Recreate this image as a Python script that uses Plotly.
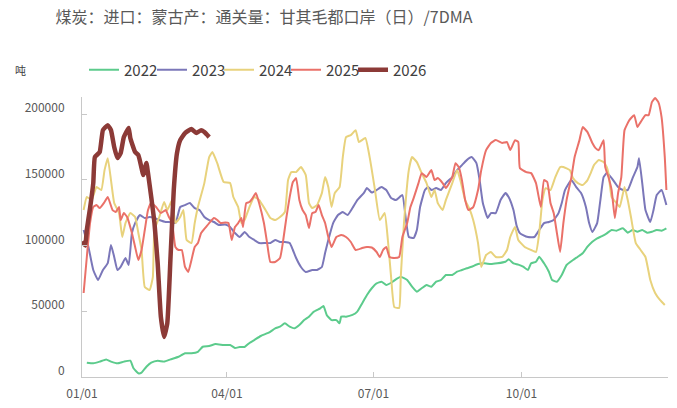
import plotly.graph_objects as go

# Day-of-year positions (0 = 01/01) and 7-day moving average values, tonnes
days_2022 = [3, 7, 11, 15, 18, 22, 26, 30, 32, 35, 37, 40, 43, 47, 51, 55, 60, 64, 68, 72, 75, 79, 83, 88,
             92, 95, 98, 101, 104, 107, 111, 116, 120, 123, 126, 129, 132, 135, 138, 141, 144, 148, 150, 152,
             155, 158, 160, 161, 164, 168, 171, 174, 177, 180, 183, 186, 189, 192, 195, 198, 202, 205, 208,
             211, 214, 217, 220, 223, 226, 230, 233, 236, 239, 242, 246, 250, 254, 258, 263, 265, 268, 271,
             274, 277, 279, 282, 284, 287, 290, 292, 295, 298, 301, 305, 308, 311, 314, 317, 320, 323, 326,
             329, 332, 336, 339, 342, 345, 348, 351, 354, 357, 360, 363]
vals_2022 = [10900, 10400, 11700, 13400, 11700, 10400, 11700, 12400, 6600, 2800, 3300, 7800, 10900, 12400,
             11700, 13400, 15400, 18000, 18000, 19200, 23000, 23600, 25100, 24300, 24300, 22100, 22800, 22800,
             25900, 28100, 31200, 33700, 37000, 38300, 40800, 38300, 37000, 39500, 43300, 45900, 49700, 52200,
             54000, 47200, 43300, 43300, 40800, 45900, 45900, 47200, 49700, 56000, 62400, 67500, 71200, 72500,
             70000, 71700, 74300, 76300, 73800, 68700, 64900, 67500, 70000, 68700, 72500, 73800, 77600, 77600,
             80100, 81400, 82700, 83900, 85900, 86500, 85900, 86500, 87700, 89500, 86500, 85500, 83900, 81400,
             86500, 87700, 91500, 86500, 80100, 73800, 72500, 77600, 85200, 89000, 91500, 94100, 99100, 102900,
             105500, 107200, 109300, 111800, 111300, 113100, 109800, 111800, 110500, 111800, 109800, 110500,
             111800, 111300, 113100]

days_2023 = [1, 4, 7, 10, 13, 16, 18, 20, 22, 24, 27, 29, 31, 33, 36, 39, 42, 45, 48, 52, 54, 58, 61, 64, 67,
             70, 73, 76, 79, 82, 85, 89, 92, 95, 98, 101, 104, 107, 110, 114, 117, 120, 123, 126, 129, 131, 133,
             136, 139, 143, 146, 149, 151, 153, 156, 159, 162, 165, 168, 171, 175, 177, 180, 183, 186, 189, 192,
             195, 199, 201, 203, 206, 208, 210, 213, 215, 217, 220, 223, 226, 230, 233, 236, 239, 242, 245, 247,
             249, 252, 254, 257, 260, 263, 265, 268, 270, 272, 274, 277, 281, 284, 287, 290, 293, 296, 298, 300,
             304, 307, 310, 313, 315, 317, 320, 322, 324, 326, 329, 333, 336, 339, 342, 345, 346, 348, 350, 353,
             355, 357, 360, 363]
vals_2023 = [111800, 98900, 81400, 73800, 81400, 86700, 100400, 91300, 81400, 83700, 90500, 85200, 109500,
             117100, 123200, 120900, 121700, 120900, 119400, 117900, 117900, 117100, 129300, 130800, 132300,
             128500, 127000, 121700, 119400, 117900, 115600, 116000, 114100, 109500, 106500, 110300, 106500,
             104200, 101900, 101900, 101900, 104200, 102700, 102700, 101900, 96600, 90500, 83700, 79900, 81400,
             81400, 83700, 94300, 104200, 117100, 123200, 125500, 123200, 128500, 134600, 139900, 143700,
             140300, 142200, 144500, 142200, 136100, 134600, 138400, 121700, 106500, 105700, 111800, 129300,
             142200, 144500, 142200, 143700, 142200, 147500, 152100, 157400, 161200, 165000, 167300, 162700,
             149800, 132300, 120900, 124700, 124700, 134600, 139900, 136900, 127000, 115000, 109500, 108000,
             106500, 106500, 111800, 117100, 117900, 119400, 124700, 132300, 142200, 149800, 144500, 139900,
             129300, 117100, 110300, 117100, 134600, 152100, 155100, 151300, 144500, 142200, 142200, 151300,
             159700, 166500, 147500, 127000, 117900, 127000, 138400, 142200, 130800]

days_2024 = [1, 3, 6, 9, 12, 14, 16, 18, 20, 23, 25, 27, 30, 33, 35, 37, 39, 42, 44, 45, 48, 51, 53, 56, 58,
             61, 63, 65, 68, 70, 72, 76, 79, 81, 84, 88, 92, 94, 97, 99, 101, 104, 107, 110, 114, 117, 120, 123,
             126, 128, 130, 133, 136, 139, 141, 143, 146, 149, 151, 153, 155, 157, 160, 162, 164, 167, 170, 172,
             176, 179, 182, 185, 188, 190, 192, 194, 197, 198, 200, 203, 205, 208, 211, 214, 217, 219, 221, 224,
             226, 230, 233, 235, 238, 241, 243, 246, 248, 251, 254, 257, 261, 264, 266, 269, 271, 275, 279, 282,
             284, 286, 288, 291, 294, 297, 299, 303, 305, 308, 311, 314, 316, 318, 321, 324, 326, 327, 329, 332,
             334, 337, 339, 341, 344, 347, 350, 353, 356, 359, 362]
vals_2024 = [127000, 136900, 134600, 144500, 142200, 157400, 166500, 149800, 132300, 124700, 106500, 117100,
             124700, 121700, 109500, 96600, 68400, 66200, 76000, 111800, 121700, 133100, 127000, 134600, 117100,
             121700, 127000, 104200, 101900, 117100, 129300, 147500, 167300, 171100, 162700, 148300, 147500,
             136900, 129300, 117100, 119400, 129300, 136900, 134600, 127000, 120900, 119400, 121700, 125500,
             149800, 155900, 155900, 159700, 153600, 132300, 128500, 130800, 139900, 152100, 144500, 129300,
             139900, 144500, 167300, 182500, 184000, 187800, 178700, 181800, 165000, 142200, 119400, 124700,
             104200, 76000, 53200, 52500, 76000, 117100, 157400, 167300, 163500, 155100, 147500, 136900, 142200,
             132300, 127000, 134600, 147500, 157400, 149800, 134600, 127000, 119400, 101900, 83700, 92800, 95100,
             91300, 91300, 96600, 106500, 114100, 104200, 98900, 96600, 95100, 109500, 134600, 143700, 142200,
             152100, 159700, 159700, 157400, 151300, 147500, 146000, 149800, 155100, 161200, 165000, 163500,
             159700, 155100, 136900, 132300, 129300, 144500, 134600, 121700, 101900, 96600, 91300, 73800, 63900,
             58600, 54800]

days_2025 = [1, 3, 5, 7, 9, 11, 14, 16, 19, 21, 23, 24, 26, 28, 31, 33, 35, 37, 39, 41, 43, 46, 49, 52, 54,
             56, 58, 60, 62, 64, 66, 68, 70, 72, 74, 77, 79, 82, 84, 86, 89, 91, 93, 95, 97, 99, 100, 102, 104,
             106, 108, 110, 113, 115, 117, 120, 123, 125, 127, 129, 131, 133, 135, 137, 139, 141, 143, 145, 147,
             149, 151, 153, 155, 158, 161, 164, 167, 170, 174, 177, 180, 183, 185, 187, 189, 191, 194, 197, 199,
             202, 204, 206, 209, 211, 214, 217, 219, 221, 224, 226, 230, 232, 234, 236, 238, 240, 243, 246, 248,
             251, 254, 257, 261, 264, 266, 269, 271, 272, 276, 279, 282, 285, 287, 289, 291, 293, 295, 297, 299,
             301, 304, 306, 309, 311, 314, 317, 319, 321, 324, 325, 327, 329, 331, 333, 335, 337, 340, 343, 345,
             347, 350, 352, 354, 356, 358, 360, 362, 363]
vals_2025 = [63900, 91300, 117100, 129300, 130800, 128500, 133100, 136900, 127000, 125500, 129300, 119400,
             124700, 121700, 109500, 98900, 89000, 96600, 111800, 127000, 132300, 129300, 124700, 127000, 121700,
             117100, 98900, 96600, 96600, 83700, 79900, 89000, 98900, 101900, 109500, 114100, 117100, 120900,
             119400, 117100, 117500, 117100, 104200, 114100, 117100, 120900, 114100, 132300, 133100, 136100,
             139900, 132300, 117100, 101900, 87500, 87500, 90500, 104200, 121700, 136900, 148300, 151300, 134600,
             127000, 123200, 113300, 124700, 125500, 130800, 123200, 117100, 106500, 98900, 106500, 108000,
             106500, 102700, 96600, 98100, 98900, 98500, 95100, 91300, 96600, 98900, 91300, 90500, 91300, 106500,
             117100, 129300, 136100, 147500, 155100, 152100, 157400, 149800, 151300, 147500, 143700, 152100,
             162700, 159700, 149800, 134600, 127000, 129300, 142200, 157400, 172600, 178000, 180200, 178000,
             178700, 172600, 180200, 178700, 158900, 155900, 155100, 147500, 129300, 149800, 148300, 132300,
             124700, 109500, 95100, 117100, 134600, 152100, 167300, 180200, 190100, 186300, 178000, 174100,
             172600, 180200, 159700, 152100, 142200, 120900, 139900, 152100, 187800, 195400, 199200, 190100,
             193900, 199200, 199200, 209100, 212200, 209100, 197700, 167300, 142200]

days_2026 = [0, 2, 3, 5, 7, 8, 11, 13, 16, 18, 20, 22, 24, 26, 29, 30, 33, 35, 37, 38, 40, 41, 43, 45, 47,
             49, 51, 53, 55, 57, 59, 61, 64, 68, 71, 74, 76, 79]
vals_2026 = [103000, 100000, 112000, 128500, 147500, 167300, 171100, 187800, 191600, 187800, 174900, 166500,
             170300, 182500, 189400, 181800, 171100, 168800, 158900, 153600, 162700, 155100, 136900, 117100,
             86700, 45600, 30400, 41100, 91300, 142200, 170300, 180200, 185600, 188600, 185600, 187800, 186300,
             182500]

years = ["2022", "2023", "2024", "2025", "2026"]
colors = ["#5ccb8c", "#7b77b9", "#e8d27c", "#ea7169", "#8c3a37"]
widths = [2, 2, 2, 2, 4.5]
series_days = [days_2022, days_2023, days_2024, days_2025, days_2026]
series_vals = [vals_2022, vals_2023, vals_2024, vals_2025, vals_2026]

x_tickvals = [0, 90, 181, 273]
x_ticktext = ["01/01", "04/01", "07/01", "10/01"]
y_tickvals = [0, 50000, 100000, 150000, 200000]
y_ticktext = ["0", "50000", "100000", "150000", "200000"]

FONT = "Noto Sans CJK SC, sans-serif"
AXIS_GRAY = "#c8c8c8"
TEXT_GRAY = "#595959"
LEGEND_FONT = dict(size=15, color="#404040", family=FONT)

PLOT_LEFT, PLOT_WIDTH = 82, 586
# pixel offset (from the page's left edge) at which each legend entry starts
legend_starts = [84, 152, 219, 286, 353]
legend_y = 1 + 27 / 280

fig = go.Figure()
legend_layouts = {}
for i, (name, d, v, c, w) in enumerate(zip(years, series_days, series_vals, colors, widths)):
    lg = "legend" if i == 0 else f"legend{i + 1}"
    fig.add_trace(go.Scatter(x=d, y=v, mode="lines", name=name, legend=lg,
                             line=dict(color=c, width=w, shape="spline", smoothing=0.4)))
    legend_layouts[lg] = dict(xref="paper", x=(legend_starts[i] - PLOT_LEFT) / PLOT_WIDTH,
                              xanchor="left", y=legend_y, yanchor="middle",
                              font=LEGEND_FONT, bgcolor="rgba(0,0,0,0)")

fig.update_layout(
    width=677, height=408,
    margin=dict(l=82, r=9, t=97, b=31, autoexpand=False),
    paper_bgcolor="white", plot_bgcolor="white",
    font=dict(family=FONT, color=TEXT_GRAY),
    title=dict(text="煤炭：进口：蒙古产：通关量：甘其毛都口岸（日）/7DMA",
               x=264 / 677, xanchor="center", xref="container",
               y=1 - 17 / 408, yanchor="middle", yref="container",
               font=dict(size=16, color=TEXT_GRAY, family=FONT)),
    showlegend=True,
    xaxis=dict(range=[0, 364], tickvals=x_tickvals, ticktext=x_ticktext,
               showline=True, linecolor=AXIS_GRAY, linewidth=1,
               ticks="inside", ticklen=5, tickcolor=AXIS_GRAY,
               showgrid=False, zeroline=False,
               tickfont=dict(size=12, color=TEXT_GRAY), ticklabelstandoff=6),
    yaxis=dict(range=[0, 213000], tickvals=y_tickvals, ticktext=y_ticktext,
               showline=True, linecolor=AXIS_GRAY, linewidth=1,
               ticks="inside", ticklen=5, tickcolor=AXIS_GRAY,
               showgrid=False, zeroline=False,
               tickfont=dict(size=12, color=TEXT_GRAY),
               ticklabelstandoff=14, ticklabelshift=-6),
    annotations=[dict(text="吨", xref="paper", yref="paper",
                      x=-62 / 586, y=legend_y, xanchor="center", yanchor="middle",
                      showarrow=False, font=dict(size=11, color="#404040", family=FONT))],
    **legend_layouts,
)

fig.write_html("out.html")
